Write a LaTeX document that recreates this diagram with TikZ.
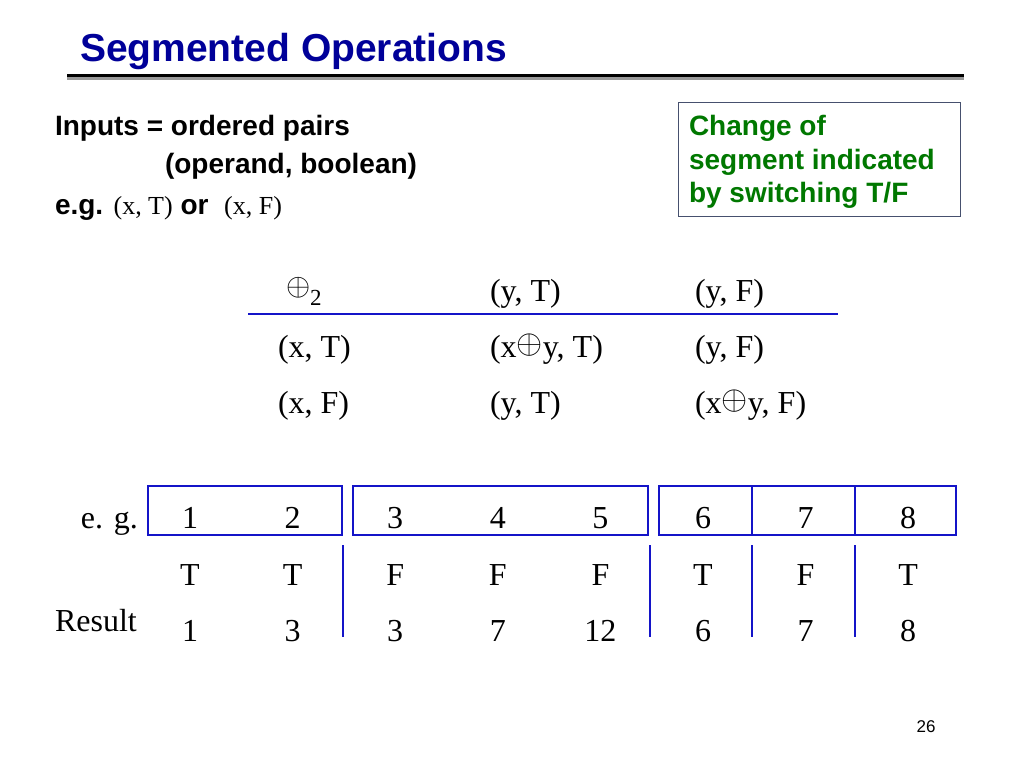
\documentclass[tikz,border=0pt]{standalone}
\usepackage{fontspec}
\usepackage{graphicx}
\setmainfont{Liberation Serif}
\setsansfont{Liberation Sans}
\definecolor{titleblue}{RGB}{0,0,153}
\definecolor{lineblue}{RGB}{20,20,200}
\definecolor{boxgray}{RGB}{70,80,110}
\definecolor{notegreen}{RGB}{0,120,0}
\newcommand{\arialtxt}{\sffamily\bfseries\fontsize{28}{33}\selectfont}
\newcommand{\timestxt}{\rmfamily\fontsize{32}{36}\selectfont}
\newcommand{\timessmall}{\rmfamily\fontsize{26}{30}\selectfont}
\newcommand{\myoplus}{\raisebox{0.12em}{\scalebox{1.35}{$\oplus$}}}
\begin{document}
\begin{tikzpicture}[x=1pt,y=-1pt,
  lbl/.style={anchor=base west,inner sep=0pt,outer sep=0pt},
  ctr/.style={anchor=base,inner sep=0pt,outer sep=0pt,font=\timestxt},
  arial/.style={lbl,font=\arialtxt},
  tm/.style={lbl,font=\timestxt},
  note/.style={lbl,font=\arialtxt,text=notegreen},
  segbox/.style={draw=lineblue,line width=1.2pt},
  segline/.style={draw=lineblue,line width=1.2pt}]
\fill[white] (0,0) rectangle (1024,768);
\useasboundingbox (0,0) rectangle (1024,768);
% title
\node[lbl,font=\sffamily\bfseries\fontsize{39}{42}\selectfont,text=titleblue] (title) at (80,62) {Segmented Operations};
\fill[black] (67,73.5) rectangle (964,77);
\fill[gray!80] (67,77) rectangle (964,80);
% inputs
\node[arial] (inputs) at (55,135) {Inputs = ordered pairs};
\node[arial] (operand) at (165,173) {(operand, boolean)};
\node[arial] (eg) at (55,214) {e.g. {\timessmall\mdseries (x, T)} or\ \ {\timessmall\mdseries (x, F)}};
% note box
\draw[boxgray,line width=1pt] (678,102) rectangle (960,216);
\node[note] (n1) at (689,135) {Change of};
\node[note] (n2) at (689,169) {segment indicated};
\node[note] (n3) at (689,202) {by switching T/F};
% operator table
\node[tm] (hop) at (286,301) {\raisebox{0.18em}{\scalebox{1.25}{$\oplus$}}\raisebox{-0.15em}{\fontsize{23}{24}\selectfont 2}};
\node[tm] (hyt) at (490,301) {(y, T)};
\node[tm] (hyf) at (695,301) {(y, F)};
\draw[segline] (248,314) -- (838,314);
\node[tm] (xt) at (278,357) {(x, T)};
\node[tm] (xtyt) at (490,357) {(x\myoplus y, T)};
\node[tm] (xtyf) at (695,357) {(y, F)};
\node[tm] (xf) at (278,413) {(x, F)};
\node[tm] (xfyt) at (490,413) {(y, T)};
\node[tm] (xfyf) at (695,413) {(x\myoplus y, F)};
% example
\node[anchor=base east,inner sep=0pt,font=\timestxt] (egl) at (138,528) {e. g.};
\node[tm] (res) at (55,631) {Result};
\draw[segbox] (148,486) rectangle (342,535);
\draw[segbox] (353,486) rectangle (648,535);
\draw[segbox] (659,486) rectangle (956,535);
\draw[segline] (752,486) -- (752,535);
\draw[segline] (855,486) -- (855,535);
\foreach \x in {343,650,752,855} \draw[segline] (\x,545) -- (\x,637);
\foreach \v/\b/\r [count=\i] in {1/T/1, 2/T/3, 3/F/3, 4/F/7, 5/F/12, 6/T/6, 7/F/7, 8/T/8}{
  \pgfmathsetmacro{\cx}{190+(\i-1)*102.6}
  \node[ctr] (v\i) at (\cx,528) {\v};
  \node[ctr] (b\i) at (\cx,585) {\b};
  \node[ctr] (r\i) at (\cx,641) {\r};
}
\node[anchor=center,inner sep=0pt,font=\sffamily\fontsize{17}{20}\selectfont] (page) at (926,727) {26};
\end{tikzpicture}
\end{document}
